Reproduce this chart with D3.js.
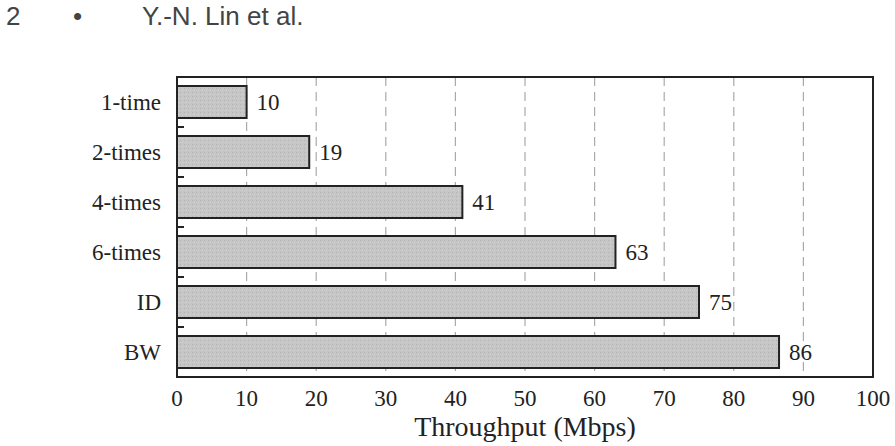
<!DOCTYPE html>
<meta charset="utf-8">
<style>
body { margin: 0; background: #fff; }
.hdr { font: 26px "Liberation Sans", Arial, sans-serif; fill: #444; }
.lbl { font: 23px "Liberation Serif", "Times New Roman", serif; fill: #222; }
.ttl { font: 28px "Liberation Serif", "Times New Roman", serif; fill: #222; }
.grid { stroke: #aaa; stroke-width: 1.2px; stroke-dasharray: 9,6; }
.bar { fill: url(#stip); stroke: #222; stroke-width: 2px; }
</style>
<body>
<script src="https://cdnjs.cloudflare.com/ajax/libs/d3/7.8.5/d3.min.js"></script>
<script>

// chart data
var categories = ["1-time", "2-times", "4-times", "6-times", "ID", "BW"];
var throughput = [10, 19, 41, 63, 75, 86.5];
var valueLabels = ["10", "19", "41", "63", "75", "86"];
var xTicks = [0, 10, 20, 30, 40, 50, 60, 70, 80, 90, 100];

var svg = d3.select("body").append("svg")
  .attr("width", 895)
  .attr("height", 446);

// stippled grey fill
var pat = svg.append("defs").append("pattern")
  .attr("id", "stip")
  .attr("patternUnits", "userSpaceOnUse")
  .attr("width", 4).attr("height", 4);
pat.append("rect").attr("width", 4).attr("height", 4).attr("fill", "#c6c6c6");
pat.append("rect").attr("x", 0).attr("y", 0).attr("width", 1).attr("height", 1).attr("fill", "#b4b4b4");
pat.append("rect").attr("x", 2).attr("y", 2).attr("width", 1).attr("height", 1).attr("fill", "#d2d2d2");

// page header
svg.append("text").attr("class", "hdr").attr("x", 6).attr("y", 25).text("2");
svg.append("text").attr("class", "hdr").attr("x", 73).attr("y", 25).text("\u2022");
svg.append("text").attr("class", "hdr").attr("x", 142).attr("y", 25).text("Y.-N. Lin et al.");

var pL = 177, pR = 873, pT = 77, pB = 377;

var x = d3.scaleLinear().domain([0, 100]).range([pL, pR]);
var y = d3.scaleBand().domain(categories).range([pT, pB])
  .paddingInner(0.36).paddingOuter(0.18);

// dashed grid
svg.selectAll(".grid")
  .data(xTicks.slice(1, -1))
  .enter().append("line")
    .attr("class", "grid")
    .attr("x1", function(d) { return x(d); })
    .attr("x2", function(d) { return x(d); })
    .attr("y1", pT).attr("y2", pB);

// bars
svg.selectAll(".bar")
  .data(throughput)
  .enter().append("rect")
    .attr("class", "bar")
    .attr("x", x(0))
    .attr("y", function(d, i) { return y(categories[i]); })
    .attr("width", function(d) { return x(d) - x(0); })
    .attr("height", y.bandwidth());

// value labels
svg.selectAll(".val")
  .data(throughput)
  .enter().append("text")
    .attr("class", "lbl")
    .attr("x", function(d) { return x(d) + 10; })
    .attr("y", function(d, i) { return y(categories[i]) + y.bandwidth() / 2; })
    .attr("dy", "0.35em")
    .text(function(d, i) { return valueLabels[i]; });

// frame
svg.append("rect")
  .attr("x", pL).attr("y", pT)
  .attr("width", pR - pL).attr("height", pB - pT)
  .attr("fill", "none").attr("stroke", "#222").attr("stroke-width", 2);

// y axis: short inward ticks at category boundaries
var gap = (y.step() - y.bandwidth()) / 2;
svg.selectAll(".ytick")
  .data(categories.slice(1))
  .enter().append("line")
    .attr("x1", pL).attr("x2", pL + 7)
    .attr("y1", function(d) { return y(d) - gap; })
    .attr("y2", function(d) { return y(d) - gap; })
    .attr("stroke", "#222").attr("stroke-width", 2);

svg.selectAll(".ylab")
  .data(categories)
  .enter().append("text")
    .attr("class", "lbl")
    .attr("text-anchor", "end")
    .attr("x", pL - 16)
    .attr("y", function(d) { return y(d) + y.bandwidth() / 2; })
    .attr("dy", "0.35em")
    .text(function(d) { return d; });

// x tick labels
svg.selectAll(".xlab")
  .data(xTicks)
  .enter().append("text")
    .attr("class", "lbl")
    .attr("text-anchor", "middle")
    .attr("x", function(d) { return x(d); })
    .attr("y", 406)
    .text(function(d) { return d; });

svg.append("text")
  .attr("class", "ttl")
  .attr("text-anchor", "middle")
  .attr("x", x(50))
  .attr("y", 436)
  .text("Throughput (Mbps)");

</script>
</body>
